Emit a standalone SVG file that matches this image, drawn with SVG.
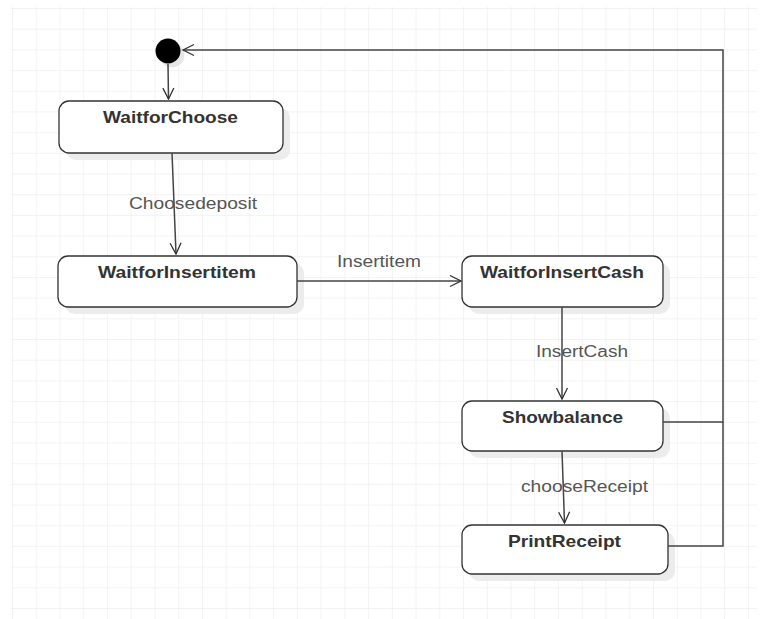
<svg xmlns="http://www.w3.org/2000/svg" width="767" height="619" viewBox="0 0 767 619">
<defs>
<pattern id="grid" x="12" y="8" width="23.74" height="20.69" patternUnits="userSpaceOnUse">
<path d="M0 0V20.69M0 0H23.74" fill="none" stroke="#f0f0f0" stroke-width="1.6"/>
</pattern>
<marker id="open" markerWidth="14" markerHeight="14" refX="12" refY="7" orient="auto" markerUnits="userSpaceOnUse">
<path d="M1 1.5L12 7L1 12.5" fill="none" stroke="#333" stroke-width="1.3"/>
</marker>
</defs>
<style>
.state rect.box{fill:#fff;stroke:#333;stroke-width:1.3}
.state rect.sh{fill:#ececec}
.state text{font-family:"Liberation Sans",Arial,sans-serif;font-weight:bold;font-size:17px;fill:#333}
.conn path{fill:none;stroke:#444;stroke-width:1.5}
.lbl{font-family:"Liberation Sans",Arial,sans-serif;font-size:16px;fill:#555}
</style>
<rect width="767" height="619" fill="#fff"/>
<rect x="11" y="7" width="746" height="612" fill="url(#grid)"/>

<g id="start">
<circle cx="172" cy="55" r="12.5" fill="#e6e6e6"/>
<circle cx="168" cy="51" r="12.5" fill="#000"/>
</g>
<g id="WaitforChoose" class="state">
<rect class="sh" x="66" y="108" width="224" height="52" rx="10"/>
<rect class="box" x="59" y="101" width="224" height="52" rx="10"/>
<text x="103" y="123" textLength="135" lengthAdjust="spacingAndGlyphs">WaitforChoose</text>
</g>
<g id="WaitforInsertitem" class="state">
<rect class="sh" x="65" y="263" width="239" height="51" rx="10"/>
<rect class="box" x="58" y="256" width="239" height="51" rx="10"/>
<text x="98" y="278" textLength="158" lengthAdjust="spacingAndGlyphs">WaitforInsertitem</text>
</g>
<g id="WaitforInsertCash" class="state">
<rect class="sh" x="469" y="263" width="201" height="51" rx="10"/>
<rect class="box" x="462" y="256" width="201" height="51" rx="10"/>
<text x="480" y="278" textLength="164" lengthAdjust="spacingAndGlyphs">WaitforInsertCash</text>
</g>
<g id="Showbalance" class="state">
<rect class="sh" x="469" y="408" width="201" height="50" rx="10"/>
<rect class="box" x="462" y="401" width="201" height="50" rx="10"/>
<text x="502" y="423" textLength="121" lengthAdjust="spacingAndGlyphs">Showbalance</text>
</g>
<g id="PrintReceipt" class="state">
<rect class="sh" x="469" y="532" width="206" height="49" rx="10"/>
<rect class="box" x="462" y="525" width="206" height="49" rx="10"/>
<text x="508" y="547" textLength="113" lengthAdjust="spacingAndGlyphs">PrintReceipt</text>
</g>

<g id="connectors" class="conn">
<path d="M168 64L168.5 99" marker-end="url(#open)"/>
<path d="M172 153L176 254" marker-end="url(#open)"/>
<path d="M297 281H461" marker-end="url(#open)"/>
<path d="M562 307V399" marker-end="url(#open)"/>
<path d="M562 451L564.5 523" marker-end="url(#open)"/>
<path d="M663 422H723V50H183" marker-end="url(#open)"/>
<path d="M668 546H723V422"/>
</g>
<g id="labels">
<text class="lbl" x="129" y="209" textLength="128" lengthAdjust="spacingAndGlyphs">Choosedeposit</text>
<text class="lbl" x="337" y="267" textLength="84" lengthAdjust="spacingAndGlyphs">Insertitem</text>
<text class="lbl" x="536" y="357" textLength="92" lengthAdjust="spacingAndGlyphs">InsertCash</text>
<text class="lbl" x="521" y="492" textLength="127" lengthAdjust="spacingAndGlyphs">chooseReceipt</text>
</g>
</svg>
